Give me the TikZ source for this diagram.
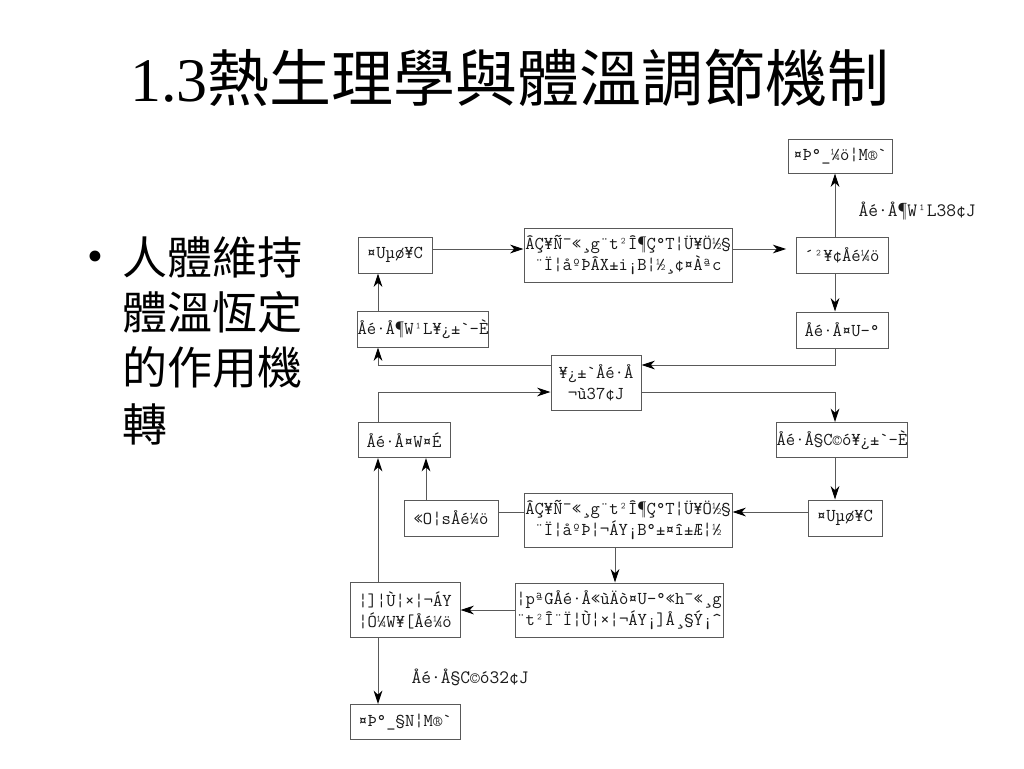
\documentclass[tikz,border=0pt]{standalone}
\usepackage{fontspec}
\setmainfont{Liberation Serif}
\newfontfamily\cjk{Noto Sans CJK TC}
\usetikzlibrary{arrows.meta}
\begin{document}
\begin{tikzpicture}[x=0.75pt,y=-0.75pt,
  box/.style={draw=black!65, line width=0.75pt, inner sep=0pt, align=center,
    font=\ttfamily\fontsize{13.6}{15.75}\selectfont, text=black!90},
  sz/.style args={#1/#2}{minimum width=#1*0.75pt, minimum height=#2*0.75pt},
  arr/.style={draw=black!65, line width=0.75pt, -{Stealth[length=10pt,width=6.5pt,inset=3pt,color=black]}},
  ln/.style={draw=black!65, line width=0.75pt},
  lbl/.style={font=\ttfamily\fontsize{14.2}{15}\selectfont, text=black!90, inner sep=0pt},
  bul/.style={anchor=base west, inner sep=0pt, font=\cjk\fontsize{33.75}{40}\selectfont}]
\useasboundingbox (0,0) rectangle (1024,768);
% title
\node (title) [anchor=base, inner sep=0pt, font=\fontsize{46.5}{50}\selectfont] at (510,101) {1.3{\cjk 熱生理學與體溫調節機制}};
% bullet text
\node (dot) [anchor=base, inner sep=0pt, font=\fontsize{34}{40}\selectfont] at (95,271) {•};
\node (t1) [bul] at (122,274) {人體維持};
\node (t2) [bul] at (122,329) {體溫恆定};
\node (t3) [bul] at (122,384) {的作用機};
\node (t4) [bul] at (122,441) {轉};
% boxes
\node (top) [box, sz=104/34] at (840,156) {¤Þ°\_¼ö¦M®`};
\node (down) [box, sz=74/36] at (395,255) {¤Uµø¥C};
\node (mid1) [box, sz=208/54] at (628,255) {ÂÇ¥Ñ¯«¸g¨t²Î¶Ç°T¦Ü¥Ö½§\\¨Ï¦åºÞÂX±i¡B¦½¸¢¤Àªc};
\node (r1) [box, sz=92/36] at (842,255) {´²¥¢Åé¼ö};
\node (l2) [box, sz=128/36] at (423,329) {Åé·Å¶W¹L¥¿±`-È};
\node (r2) [box, sz=92/36] at (842,330) {Åé·Å¤U-°};
\node (ctr) [box, sz=90/55] at (596,383) {¥¿±`Åé·Å\\¬ù37¢J};
\node (l3) [box, sz=92/35] at (404,440) {Åé·Å¤W¤É};
\node (r3) [box, sz=128/35] at (842,440) {Åé·Å§C©ó¥¿±`-È};
\node (l4) [box, sz=94/36] at (451,518) {«O¦sÅé¼ö};
\node (mid2) [box, sz=208/54] at (628,520) {ÂÇ¥Ñ¯«¸g¨t²Î¶Ç°T¦Ü¥Ö½§\\¨Ï¦åºÞ¦¬ÁY¡B°±¤î±Æ¦½};
\node (r4) [box, sz=74/36] at (845,518) {¤Uµø¥C};
\node (l5) [box, sz=110/55] at (405,610) {¦]¦Ù¦×¦¬ÁY\\¦Ó¼W¥[Åé¼ö};
\node (mid3) [box, sz=208/54] at (619,610) {¦pªGÅé·Å«ùÄò¤U-°«h¯«¸g\\¨t²Î¨Ï¦Ù¦×¦¬ÁY¡]Å¸§Ý¡\char"5E};
\node (bot) [box, sz=110/35] at (405,722) {¤Þ°\_§N¦M®`};
% labels
\node (lab1) [lbl] at (917,211) {Åé·Å¶W¹L38¢J};
\node (lab2) [lbl] at (470,677) {Åé·Å§C©ó32¢J};
% helper coordinates
\coordinate (L) at (378,0);
\coordinate (R) at (835,0);
\coordinate (H1) at (0,365);
\coordinate (H2) at (0,392);
\coordinate (X4) at (426,0);
\coordinate (X5) at (615,0);
\coordinate (A1) at (0,249);
\coordinate (A2) at (0,512);
% connectors
\draw[arr] (r1.north -| R) -- (top.south -| R);
\draw[arr] (down.east |- A1) -- (mid1.west |- A1);
\draw[arr, shorten >=7pt] (mid1.east |- A1) -- (r1.west |- A1);
\draw[arr] (r1.south -| R) -- (r2.north -| R);
\draw[arr] (r2.south -| R) |- (ctr.east |- H1);
\draw[arr] (ctr.west |- H1) -| (l2.south -| L);
\draw[arr] (l2.north -| L) -- (down.south -| L);
\draw[arr] (l3.north -| L) |- (ctr.west |- H2);
\draw[arr] (ctr.east |- H2) -| (r3.north -| R);
\draw[arr] (r3.south -| R) -- (r4.north -| R);
\draw[arr] (r4.west |- A2) -- (mid2.east |- A2);
\draw[ln] (mid2.west |- A2) -- (l4.east |- A2);
\draw[arr] (l4.north -| X4) -- (l3.south -| X4);
\draw[arr] (l5.north -| L) -- (l3.south -| L);
\draw[arr] (mid2.south -| X5) -- (mid3.north -| X5);
\draw[arr] (mid3.west) -- (l5.east |- mid3.west);
\draw[arr] (l5.south -| L) -- (bot.north -| L);
\end{tikzpicture}
\end{document}
